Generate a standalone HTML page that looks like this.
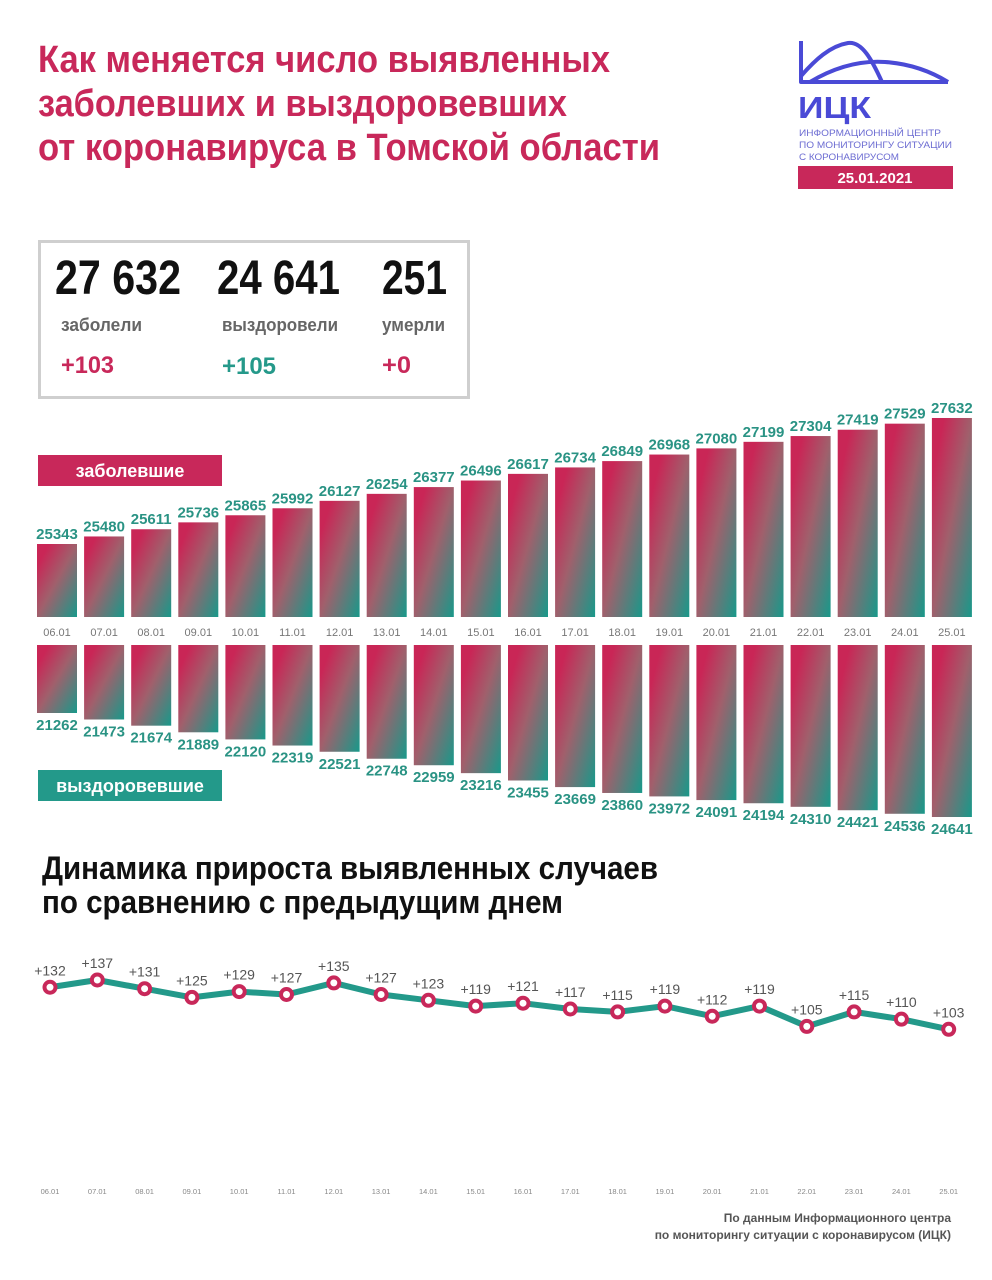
<!DOCTYPE html>
<html><head><meta charset="utf-8">
<style>
html,body{margin:0;padding:0;background:#fff;}
svg{display:block;font-family:"Liberation Sans",sans-serif;}
</style></head>
<body>
<svg id="s" width="992" height="1280" viewBox="0 0 992 1280" xmlns="http://www.w3.org/2000/svg">
<defs>
<linearGradient id="g" x1="0" y1="0" x2="1" y2="1">
<stop offset="0.15" stop-color="#c92656"/>
<stop offset="0.5" stop-color="#a0606c"/>
<stop offset="1" stop-color="#18998a"/>
</linearGradient>
</defs>
<g fill="#c8285a" font-weight="bold" font-size="38">
<text x="38" y="72" textLength="572" lengthAdjust="spacingAndGlyphs">Как меняется число выявленных</text>
<text x="38" y="116" textLength="529" lengthAdjust="spacingAndGlyphs">заболевших и выздоровевших</text>
<text x="38" y="160" textLength="622" lengthAdjust="spacingAndGlyphs">от коронавируса в Томской области</text>
</g>
<!-- logo -->
<g fill="none" stroke="#4a4ad6" stroke-width="4" stroke-linejoin="round">
<path d="M801 41 L801 82 L948 82"/>
<path d="M801 76 C815 60 830 46 848 43 C862 41 872 60 882 82"/>
<path d="M810 82 C830 70 855 60 885 62 C915 64 935 74 948 82"/>
</g>
<text x="798" y="118" fill="#4a4ad6" font-weight="bold" font-size="31" textLength="73" lengthAdjust="spacingAndGlyphs">ИЦК</text>
<g fill="#6c6cd2" font-size="9.5">
<text x="799" y="136" textLength="142" lengthAdjust="spacingAndGlyphs">ИНФОРМАЦИОННЫЙ ЦЕНТР</text>
<text x="799" y="148" textLength="153" lengthAdjust="spacingAndGlyphs">ПО МОНИТОРИНГУ СИТУАЦИИ</text>
<text x="799" y="160" textLength="100" lengthAdjust="spacingAndGlyphs">С КОРОНАВИРУСОМ</text>
</g>
<rect x="798" y="166" width="155" height="23" fill="#c8285a"/>
<text x="875" y="183" fill="#fff" font-weight="bold" font-size="15" text-anchor="middle">25.01.2021</text>
<!-- stats box -->
<rect x="39.5" y="241.5" width="429" height="156" fill="none" stroke="#cfcfcf" stroke-width="3"/>
<g font-weight="bold" font-size="48" fill="#111">
<text x="55" y="294" textLength="126" lengthAdjust="spacingAndGlyphs">27 632</text>
<text x="217" y="294" textLength="123" lengthAdjust="spacingAndGlyphs">24 641</text>
<text x="382" y="294" textLength="65" lengthAdjust="spacingAndGlyphs">251</text>
</g>
<g font-weight="bold" font-size="18" fill="#666">
<text x="61" y="331" textLength="81" lengthAdjust="spacingAndGlyphs">заболели</text>
<text x="222" y="331" textLength="116" lengthAdjust="spacingAndGlyphs">выздоровели</text>
<text x="382" y="331" textLength="63" lengthAdjust="spacingAndGlyphs">умерли</text>
</g>
<g font-weight="bold" font-size="24">
<text x="61" y="373" fill="#c8285a" textLength="53" lengthAdjust="spacingAndGlyphs">+103</text>
<text x="222" y="374" fill="#25998a" textLength="54" lengthAdjust="spacingAndGlyphs">+105</text>
<text x="382" y="373" fill="#c8285a" textLength="29" lengthAdjust="spacingAndGlyphs">+0</text>
</g>
<rect x="38" y="455" width="184" height="31" fill="#c8285a"/>
<text x="130" y="477" fill="#fff" font-weight="bold" font-size="18" text-anchor="middle">заболевшие</text>
<rect x="38" y="770" width="184" height="31" fill="#23998a"/>
<text x="130" y="792" fill="#fff" font-weight="bold" font-size="18" text-anchor="middle">выздоровевшие</text>
<g id="bars"></g>
<g fill="#111" font-weight="bold" font-size="32">
<text x="42" y="879" textLength="616" lengthAdjust="spacingAndGlyphs">Динамика прироста выявленных случаев</text>
<text x="42" y="913" textLength="521" lengthAdjust="spacingAndGlyphs">по сравнению с предыдущим днем</text>
</g>
<g id="line"></g>
<g fill="#555" font-weight="bold" font-size="12" text-anchor="end">
<text x="951" y="1222">По данным Информационного центра</text>
<text x="951" y="1239">по мониторингу ситуации с коронавирусом (ИЦК)</text>
</g>
</svg>
<script>
var NS="http://www.w3.org/2000/svg";
function el(p,t,a,txt){var e=document.createElementNS(NS,t);for(var k in a)e.setAttribute(k,a[k]);if(txt!=null)e.textContent=txt;p.appendChild(e);return e;}
var top_=[25343,25480,25611,25736,25865,25992,26127,26254,26377,26496,26617,26734,26849,26968,27080,27199,27304,27419,27529,27632];
var bot=[21262,21473,21674,21889,22120,22319,22521,22748,22959,23216,23455,23669,23860,23972,24091,24194,24310,24421,24536,24641];
var inc=[132,137,131,125,129,127,135,127,123,119,121,117,115,119,112,119,105,115,110,103];
var dates=[];for(var i=6;i<=25;i++)dates.push((i<10?"0":"")+i+".01");
var B=document.getElementById("bars");
for(var i=0;i<20;i++){
 var x=37+i*47.1,cx=x+20;
 var ty=544-(top_[i]-25343)*0.05505;
 el(B,"rect",{x:x,y:ty,width:40,height:617-ty,fill:"url(#g)"});
 el(B,"text",{x:cx,y:ty-5,fill:"#2a9384","font-weight":"bold","font-size":"15","text-anchor":"middle"},top_[i]);
 el(B,"text",{x:cx,y:636,fill:"#777","font-size":"11","text-anchor":"middle"},dates[i]);
 var by=713+(bot[i]-21262)*0.03078;
 el(B,"rect",{x:x,y:645,width:40,height:by-645,fill:"url(#g)"});
 el(B,"text",{x:cx,y:by+17,fill:"#2a9384","font-weight":"bold","font-size":"15","text-anchor":"middle"},bot[i]);
}
var L=document.getElementById("line"),pts=[];
for(var i=0;i<20;i++){var x=50+i*47.3,y=980+(137-inc[i])*1.45;pts.push([x,y]);}
el(L,"polyline",{points:pts.map(function(p){return p.join(",")}).join(" "),fill:"none",stroke:"#23998a","stroke-width":"6","stroke-linejoin":"round"});
for(var i=0;i<20;i++){var p=pts[i];
 el(L,"circle",{cx:p[0],cy:p[1],r:"5.5",fill:"#fff",stroke:"#c8285a","stroke-width":"4"});
 el(L,"text",{x:p[0],y:p[1]-12,fill:"#555","font-size":"14","text-anchor":"middle"},"+"+inc[i]);
 el(L,"text",{x:p[0],y:1194,fill:"#888","font-size":"7.5","text-anchor":"middle"},dates[i]);
}
</script>
</body></html>
